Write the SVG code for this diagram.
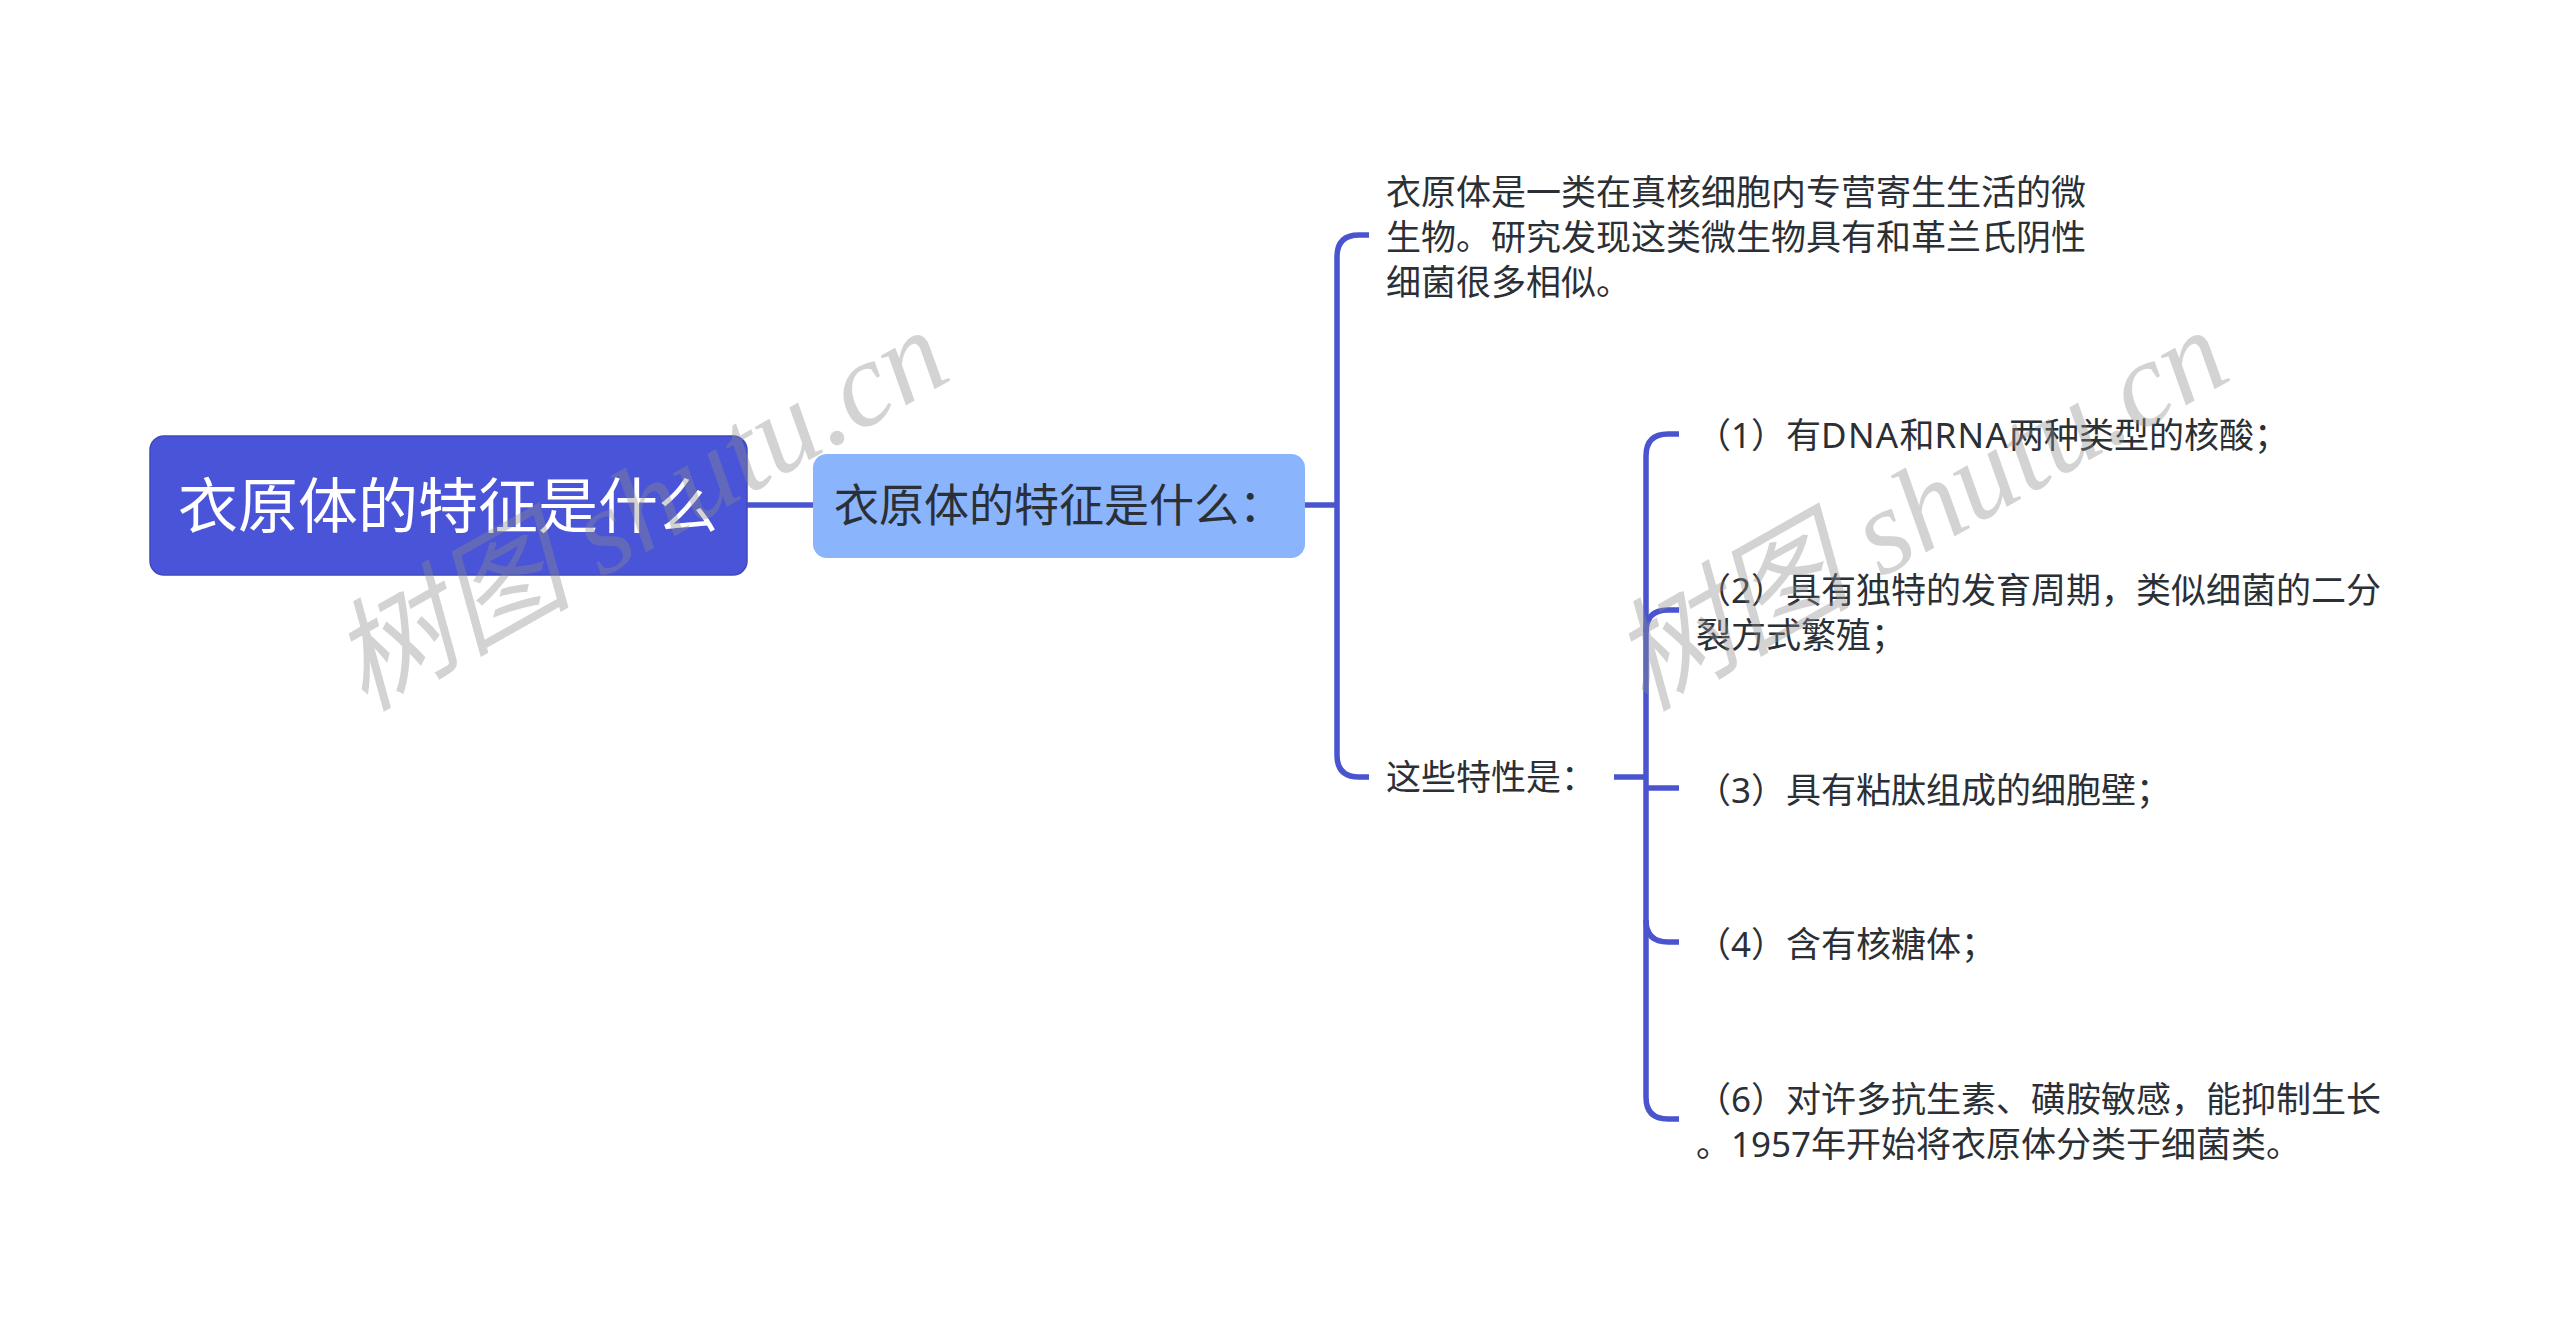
<svg xmlns="http://www.w3.org/2000/svg" width="2560" height="1330" viewBox="0 0 2560 1330">
<style>
text{font-family:"Noto Sans","Noto Sans CJK SC",sans-serif;fill:#2b2f36}
.b{font-size:35px}
.l{letter-spacing:1.3px}
.c{fill:none;stroke:#4a54cf;stroke-width:5.5}
.w{font-family:"Liberation Serif","Noto Sans CJK SC",serif;font-style:italic;font-size:121px;fill:#8c8c8c;fill-opacity:.38}
</style>
<rect width="2560" height="1330" fill="#fff"/>
<g id="connectors">
<path class="c" d="M747 505H813"/>
<path class="c" d="M1305 505H1337"/>
<path class="c" d="M1369 235H1359Q1337 235 1337 257V755Q1337 777 1359 777H1369"/>
<path class="c" d="M1614 777H1645"/>
<path class="c" d="M1679 434H1668Q1646 434 1646 456V1097Q1646 1119 1668 1119H1679"/>
<path class="c" d="M1679 610H1668Q1646 610 1646 632"/>
<path class="c" d="M1646 788H1679"/>
<path class="c" d="M1646 920Q1646 942 1668 942H1679"/>
</g>
<g id="root"><rect x="150" y="436" width="597" height="139" rx="14" fill="#4a54d8" stroke="#3f49bd" stroke-width="1.5"/><text x="178" y="528" font-size="60" style="fill:#fff">衣原体的特征是什么</text></g>
<g id="main"><rect x="813" y="454" width="492" height="104" rx="14" fill="#8ab4fb"/><text x="834" y="522" font-size="45">衣原体的特征是什么：</text></g>
<g id="n1"><text class="b" x="1386" y="205">衣原体是一类在真核细胞内专营寄生生活的微</text><text class="b" x="1386" y="250">生物。研究发现这类微生物具有和革兰氏阴性</text><text class="b" x="1386" y="295">细菌很多相似。</text></g>
<g id="n2"><text class="b" x="1386" y="790">这些特性是：</text></g>
<g id="c1"><text class="b" x="1696" y="448">（1）有<tspan class="l">DNA</tspan>和<tspan class="l">RNA</tspan>两种类型的核酸；</text></g>
<g id="c2"><text class="b" x="1696" y="603">（2）具有独特的发育周期，类似细菌的二分</text><text class="b" x="1696" y="648">裂方式繁殖；</text></g>
<g id="c3"><text class="b" x="1696" y="803">（3）具有粘肽组成的细胞壁；</text></g>
<g id="c4"><text class="b" x="1696" y="957">（4）含有核糖体；</text></g>
<g id="c6"><text class="b" x="1696" y="1112">（6）对许多抗生素、磺胺敏感，能抑制生长</text><text class="b" x="1696" y="1157">。1957年开始将衣原体分类于细菌类。</text></g>
<g id="watermarks"><text class="w" transform="translate(364 712) rotate(-29.5)">树图 shutu.cn</text><text class="w" transform="translate(1644 712) rotate(-29.5)">树图 shutu.cn</text></g>
</svg>
